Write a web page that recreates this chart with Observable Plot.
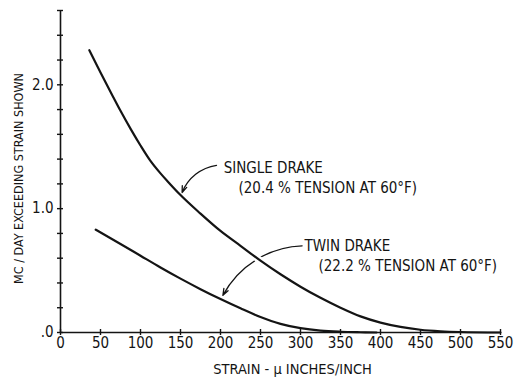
<!DOCTYPE html>
<html>
<head>
<meta charset="utf-8">
<script src="https://cdn.jsdelivr.net/npm/d3@7"></script>
<script src="https://cdn.jsdelivr.net/npm/@observablehq/plot@0.6"></script>
<style>
  html, body { margin: 0; padding: 0; background: #fff; }
  #chart svg { display: block; }
</style>
</head>
<body>
<div id="chart"></div>
<script>
// ---- data ----
const xTicks = [0, 50, 100, 150, 200, 250, 300, 350, 400, 450, 500, 550];
const yTicks = [0, 0.2, 0.4, 0.6, 0.8, 1.0, 1.2, 1.4, 1.6, 1.8, 2.0, 2.2, 2.4, 2.6];
const yLabelTicks = [0, 1, 2];
const yTickLabels = [".0", "1.0", "2.0"];

const singleStrain = [36, 50, 66, 75, 88, 100, 112, 125, 134, 150, 175, 200, 225, 250, 275, 300, 325, 350, 375, 400, 425, 450, 475, 500, 550];
const singleRate   = [2.28, 2.10, 1.90, 1.79, 1.64, 1.51, 1.39, 1.285, 1.22, 1.11, 0.96, 0.82, 0.70, 0.58, 0.47, 0.37, 0.28, 0.20, 0.13, 0.08, 0.045, 0.022, 0.01, 0.004, 0];

const twinStrain = [44, 75, 100, 125, 150, 175, 200, 225, 250, 275, 300, 325, 350, 375, 395];
const twinRate   = [0.83, 0.715, 0.62, 0.525, 0.435, 0.35, 0.27, 0.195, 0.125, 0.07, 0.035, 0.015, 0.006, 0.002, 0];

// annotation labels (data units)
const labelText = ["SINGLE DRAKE", "(20.4 % TENSION AT 60°F)", "TWIN DRAKE", "(22.2 % TENSION AT 60°F)"];
const labelX = [204, 222.5, 305, 322.5];
const labelY = [1.29, 1.129, 0.661, 0.50];

// leader arrows (data units): from label to curve
const arrowX1 = [195, 302];
const arrowY1 = [1.35, 0.70];
const arrowX2 = [152, 203];
const arrowY2 = [1.13, 0.30];

const single = singleStrain.map((x, i) => ({x, y: singleRate[i]}));
const twin = twinStrain.map((x, i) => ({x, y: twinRate[i]}));
const labels = labelText.map((t, i) => ({t, x: labelX[i], y: labelY[i]}));
const arrows = arrowX1.map((x1, i) => ({x1, y1: arrowY1[i], x2: arrowX2[i], y2: arrowY2[i]}));

const FONT = "'Liberation Sans Narrow', 'DejaVu Sans Condensed', 'Liberation Sans', sans-serif";
const INK = "#141414";

const chart = Plot.plot({
  width: 515,
  height: 379,
  marginLeft: 60,
  marginRight: 15,
  marginTop: 10,
  marginBottom: 47,
  style: {fontFamily: FONT, fontSize: "15px", color: INK, background: "#fff"},
  x: {domain: [0, 550]},
  y: {domain: [0, 2.6]},
  marks: [
    // twin leader (drawn under the single curve's halo)
    Plot.arrow([arrows[1]], {x1: "x1", y1: "y1", x2: "x2", y2: "y2", bend: -30, stroke: INK, strokeWidth: 1.3, headLength: 8, headAngle: 40}),
    // white halo of single curve
    Plot.line(single, {x: "x", y: "y", curve: "monotone-x", stroke: "#fff", strokeWidth: 7}),
    // axes lines
    Plot.ruleX([0], {stroke: INK, strokeWidth: 1.6}),
    Plot.ruleY([0], {stroke: INK, strokeWidth: 1.6}),
    // tick marks crossing axes
    Plot.axisY({ticks: yTicks, tickSize: 6, dx: 3, tickFormat: () => "", stroke: INK, strokeWidth: 1.4}),
    Plot.axisX({ticks: xTicks, tickSize: 6, dy: -3, tickFormat: () => "", stroke: INK, strokeWidth: 1.4}),
    // tick labels
    Plot.axisY({ticks: yLabelTicks, tickSize: 0, tickPadding: 7, tickFormat: d => yTickLabels[yLabelTicks.indexOf(d)], fontSize: 15, fill: INK, label: null}),
    Plot.axisX({ticks: xTicks, tickSize: 0, tickPadding: 5, fontSize: 15, fill: INK, label: null}),
    // curves
    Plot.line(single, {x: "x", y: "y", curve: "monotone-x", stroke: INK, strokeWidth: 2.2}),
    Plot.line(twin, {x: "x", y: "y", curve: "monotone-x", stroke: INK, strokeWidth: 2.2}),
    // single leader
    Plot.arrow([arrows[0]], {x1: "x1", y1: "y1", x2: "x2", y2: "y2", bend: -30, stroke: INK, strokeWidth: 1.3, headLength: 8, headAngle: 40}),
    // annotations
    Plot.text(labels, {x: "x", y: "y", text: "t", textAnchor: "start", lineAnchor: "bottom", fontSize: 15, fill: INK}),
    // axis titles
    Plot.text(["STRAIN - μ INCHES/INCH"], {frameAnchor: "bottom", dx: 12, dy: 41, fontSize: 14.5, fill: INK, lineAnchor: "bottom"}),
    Plot.text(["MC / DAY EXCEEDING STRAIN SHOWN"], {frameAnchor: "left", textAnchor: "middle", dx: -42, dy: 7, rotate: -90, fontSize: 12.5, fill: INK})
  ]
});
document.getElementById("chart").appendChild(chart);
</script>
</body>
</html>
